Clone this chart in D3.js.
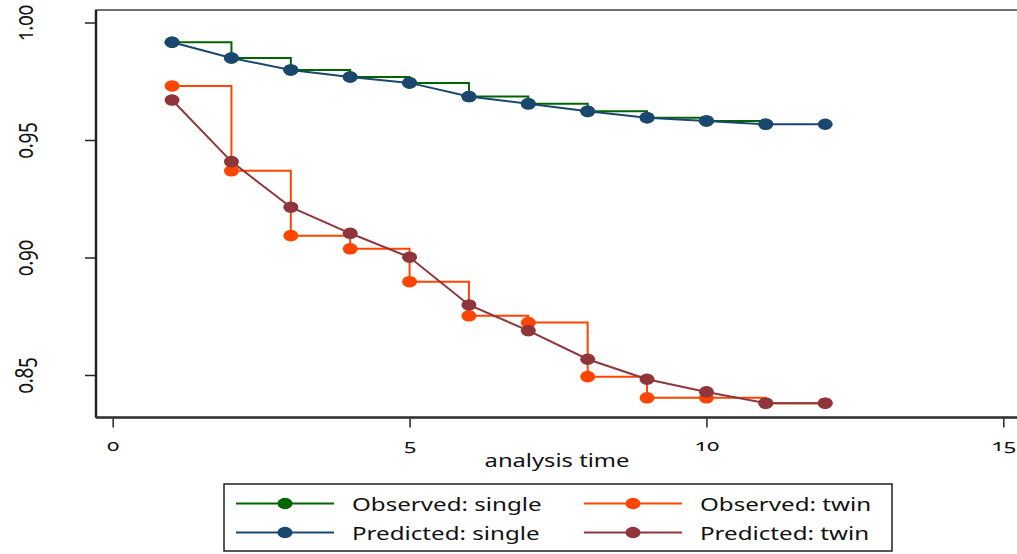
<!DOCTYPE html>
<html>
  <head>
    <script src="https://d3js.org/d3.v7.min.js"></script>
    <style>
    body { margin: 0; background: #fff; }
    svg text {
      font-family: "Noto Sans", "Open Sans", sans-serif;
      font-variant-numeric: oldstyle-nums;
      fill: #111;
    }
    .axis line { stroke: #222; stroke-width: 1.5; }
    .axis path { display: none; }
    </style>
  </head>
  <body>
    <script>

    // survival data
    var times = [1, 2, 3, 4, 5, 6, 7, 8, 9, 10, 11, 12];
    var obsSingle = [0.9916, 0.9849, 0.9798, 0.9768, 0.9743, 0.9685, 0.9654, 0.9622, 0.9595, 0.9581, 0.9567];
    var predSingle = [0.9916, 0.9849, 0.9798, 0.9768, 0.9743, 0.9685, 0.9654, 0.9622, 0.9595, 0.9581, 0.9567, 0.9567];
    var obsTwin = [0.9730, 0.9369, 0.9093, 0.9037, 0.8897, 0.8752, 0.8723, 0.8493, 0.8403, 0.8403, 0.8380, 0.8380];
    var predTwin = [0.9670, 0.9408, 0.9214, 0.9103, 0.9001, 0.8798, 0.8689, 0.8567, 0.8482, 0.8428, 0.8380, 0.8380];

    var xTicks = [0, 5, 10, 15];
    var yTicks = [0.85, 0.90, 0.95, 1.00];

    var seriesNames = ["Observed: single", "Predicted: single", "Observed: twin", "Predicted: twin"];
    var seriesColors = ["#006400", "#1a476f", "#ff4500", "#90353b"];

    var w = 1017, h = 554;
    var plotLeft = 96, plotTop = 10, plotBottom = 417.5;
    var stretch = 1.32; // the original graph is stretched sideways

    var svg = d3.select("body").append("svg")
      .attr("width", w)
      .attr("height", h);

    var xScale = d3.scaleLinear().domain([0, 15]).range([112.7, 1003.3]);
    var yScale = d3.scaleLinear().domain([0.85, 1.00]).range([375, 22.5]);

    // plot region frame (top + left + bottom)
    svg.append("rect")
      .attr("x", plotLeft)
      .attr("y", plotTop)
      .attr("width", w + 10 - plotLeft)
      .attr("height", plotBottom - plotTop)
      .attr("fill", "none")
      .attr("stroke", "#444")
      .attr("stroke-width", 1.5);
    svg.append("line")
      .attr("x1", plotLeft).attr("x2", plotLeft)
      .attr("y1", plotTop).attr("y2", plotBottom)
      .attr("stroke", "#222").attr("stroke-width", 2.5);
    svg.append("line")
      .attr("x1", plotLeft).attr("x2", w)
      .attr("y1", plotBottom).attr("y2", plotBottom)
      .attr("stroke", "#333").attr("stroke-width", 2.5);

    // axes
    var xAxis = d3.axisBottom(xScale).tickValues(xTicks).tickSize(9).tickPadding(11);
    var gx = svg.append("g")
      .attr("class", "axis")
      .attr("transform", "translate(0," + (plotBottom + 1) + ")")
      .call(xAxis);
    gx.selectAll("text")
      .style("font-size", "17px")
      .attr("transform", "scale(" + stretch + ",1)");

    var yAxis = d3.axisLeft(yScale).tickValues(yTicks).tickSize(10)
      .tickFormat(d3.format(".2f"));
    var gy = svg.append("g")
      .attr("class", "axis")
      .attr("transform", "translate(" + (plotLeft - 1) + ",0)")
      .call(yAxis);
    gy.selectAll("text")
      .style("font-size", "19px")
      .attr("x", null)
      .attr("dy", null)
      .attr("text-anchor", "middle")
      .attr("dominant-baseline", "central")
      .attr("transform", "translate(-72,0) scale(" + stretch + ",1) rotate(-90)");

    svg.append("text")
      .attr("transform", "translate(557,467) scale(" + stretch + ",1)")
      .attr("text-anchor", "middle")
      .style("font-size", "18px")
      .text("analysis time");

    // series
    var lineStep = d3.line()
      .x(function(d, i) { return xScale(times[i]); })
      .y(function(d) { return yScale(d); })
      .curve(d3.curveStepAfter);
    var lineStraight = d3.line()
      .x(function(d, i) { return xScale(times[i]); })
      .y(function(d) { return yScale(d); });

    var series = [
      { values: obsSingle, gen: lineStep, color: seriesColors[0] },
      { values: predSingle, gen: lineStraight, color: seriesColors[1] },
      { values: obsTwin, gen: lineStep, color: seriesColors[2] },
      { values: predTwin, gen: lineStraight, color: seriesColors[3] }
    ];

    series.forEach(function(s) {
      var g = svg.append("g");
      g.append("path")
        .attr("d", s.gen(s.values))
        .attr("fill", "none")
        .attr("stroke", s.color)
        .attr("stroke-width", 2);
      g.selectAll("ellipse")
        .data(s.values)
        .enter()
        .append("ellipse")
        .attr("cx", function(d, i) { return xScale(times[i]); })
        .attr("cy", function(d) { return yScale(d); })
        .attr("rx", 7.5)
        .attr("ry", 5.8)
        .attr("fill", s.color);
    });

    // legend
    var legend = svg.append("g");
    legend.append("rect")
      .attr("x", 224).attr("y", 484)
      .attr("width", 668).attr("height", 67)
      .attr("fill", "#fff")
      .attr("stroke", "#222")
      .attr("stroke-width", 1.5);

    var legendCols = [236, 584];
    var legendRows = [503.5, 532.5];
    seriesNames.forEach(function(name, i) {
      var lx = legendCols[Math.floor(i / 2)];
      var ly = legendRows[i % 2];
      legend.append("line")
        .attr("x1", lx).attr("x2", lx + 98)
        .attr("y1", ly).attr("y2", ly)
        .attr("stroke", seriesColors[i])
        .attr("stroke-width", 2);
      legend.append("ellipse")
        .attr("cx", lx + 49).attr("cy", ly)
        .attr("rx", 7.5).attr("ry", 5.8)
        .attr("fill", seriesColors[i]);
      legend.append("text")
        .attr("transform", "translate(" + (lx + 116) + "," + ly + ") scale(" + stretch + ",1)")
        .attr("dominant-baseline", "central")
        .style("font-size", "18.3px")
        .text(name);
    });

    </script>
  </body>
</html>
